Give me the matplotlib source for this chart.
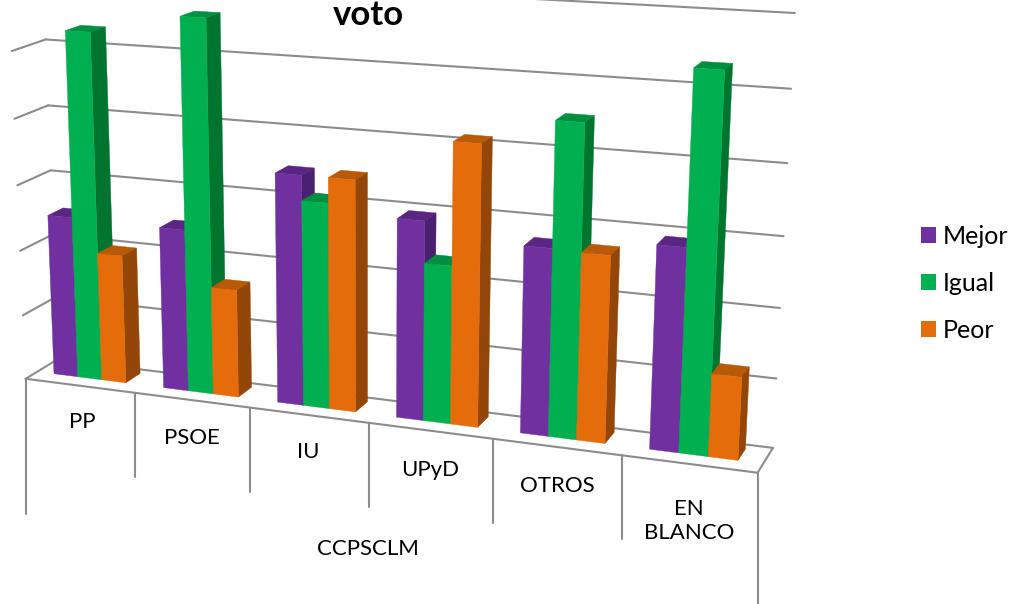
import numpy as np
import matplotlib
matplotlib.use('Agg')
import matplotlib.pyplot as plt
from matplotlib.patches import Patch, Polygon

plt.rcParams['font.family'] = ['Lato', 'DejaVu Sans']

# data
categories = ['PP', 'PSOE', 'IU', 'UPyD', 'OTROS', 'EN\nBLANCO']
group_label = 'CCPSCLM'
mejor = [24.8, 24.6, 34.3, 29.3, 27.1, 29.0]
igual = [52.8, 55.9, 30.6, 23.2, 44.9, 53.2]
peor = [19.7, 16.3, 34.3, 40.9, 26.9, 11.8]
series_names = ['Mejor', 'Igual', 'Peor']
grid_step = 10
n_levels = 6

front_colors = ['#7030A0', '#00B050', '#E46C0A']
side_colors = ['#4A2070', '#00752F', '#934607']
top_colors = ['#5A2583', '#008F40', '#B85A08']
grid_color = '#8C8C8C'

# calibration of the fake 3d view: (cat x, depth, level) -> pixel
calib = [
    (0, 1, 0, 55, 360), (0, 1, 1, 54, 298), (0, 1, 2, 53, 235),
    (0, 1, 3, 52, 170), (0, 1, 4, 50, 105), (0, 1, 5, 47, 39),
    (6, 1, 0, 773, 447), (6, 1, 1, 777, 378), (6, 1, 2, 780, 308),
    (6, 1, 3, 783, 236), (6, 1, 4, 787, 163), (6, 1, 5, 791, 89),
    (6, 1, 6, 795, 13),
    (0, 0, 0, 27, 378), (0, 0, 1, 23, 315), (0, 0, 2, 20, 251),
    (0, 0, 3, 17, 186), (0, 0, 4, 13, 119), (0, 0, 5, 10, 51),
    (6, 0, 0, 758, 474),
    (0, 0, 0, 27, 378), (1, 0, 0, 136, 392), (2, 0, 0, 250, 408),
    (3, 0, 0, 369, 423), (4, 0, 0, 492, 438), (5, 0, 0, 622, 456),
]
A = []
b = []
for x, y, z, u, v in calib:
    A.append([x, y, z, 1, 0, 0, 0, 0, -u * x, -u * y, -u * z])
    A.append([0, 0, 0, 0, x, y, z, 1, -v * x, -v * y, -v * z])
    b += [u, v]
p = np.linalg.lstsq(np.array(A, float), np.array(b, float), rcond=None)[0]
P = np.append(p, 1).reshape(3, 4)


def proj(x, y, z):
    h = P.dot([x, y, z / grid_step, 1])
    return h[0] / h[2], h[1] / h[2]


fig = plt.figure(figsize=(10.13, 6.04), dpi=100)
ax = fig.add_axes([0, 0, 1, 1])
ax.set_xlim(0, 1013)
ax.set_ylim(604, 0)
ax.axis('off')


def line(a, b, lw=1.5):
    ax.plot([a[0], b[0]], [a[1], b[1]], color=grid_color, lw=lw, solid_capstyle='round', zorder=1)


# walls and floor
for lev in range(n_levels + 1):
    z = lev * grid_step
    line(proj(0, 0, z), proj(0, 1, z))
    line(proj(0, 1, z), proj(6, 1, z))
line(proj(6, 0, 0), proj(6, 1, 0))
line(proj(0, 0, 0), proj(6, 0, 0))

# category dividers under the floor edge
for i in range(7):
    u, v = proj(i, 0, 0)
    drop = 135 if i in (0, 6) else 84
    line((u, v), (u, v + drop))

# bars
margin = 0.155
w = 0.22
y0, y1 = 0.36, 0.83


def face(pts, color, zo):
    ax.add_patch(Polygon([proj(*q) for q in pts], closed=True, facecolor=color,
                         edgecolor=color, lw=0.3, zorder=zo))


zo = 2
for i in range(len(categories)):
    for k, vals in enumerate([mejor, igual, peor]):
        h = vals[i]
        xa = i + margin + k * w
        xb = xa + w
        face([(xa, y0, h), (xb, y0, h), (xb, y1, h), (xa, y1, h)], top_colors[k], zo)
        face([(xb, y0, 0), (xb, y1, 0), (xb, y1, h), (xb, y0, h)], side_colors[k], zo)
        face([(xa, y0, 0), (xb, y0, 0), (xb, y0, h), (xa, y0, h)], front_colors[k], zo)
        zo += 1

# labels
label_pos = [(82, 422), (192, 438), (308, 452), (430, 470), (557, 486), (689, 521)]
for name, (u, v) in zip(categories, label_pos):
    ax.text(u, v, name, ha='center', va='center', fontsize=16, color='black', linespacing=1.25, zorder=50)
ax.text(368, 549, group_label, ha='center', va='center', fontsize=16, color='black')
ax.text(368, 15, 'voto', ha='center', va='center', fontsize=25, fontweight='bold', color='black', zorder=50)

handles = [Patch(facecolor=c, edgecolor='none') for c in front_colors]
ax.legend(handles, series_names, loc='center left', bbox_to_anchor=(0.909, 0.531), frameon=False,
          fontsize=18, handlelength=0.6, handleheight=0.6, handletextpad=0.28, labelspacing=0.96,
          borderpad=0, borderaxespad=0)

fig.savefig('out.png', dpi=100)
